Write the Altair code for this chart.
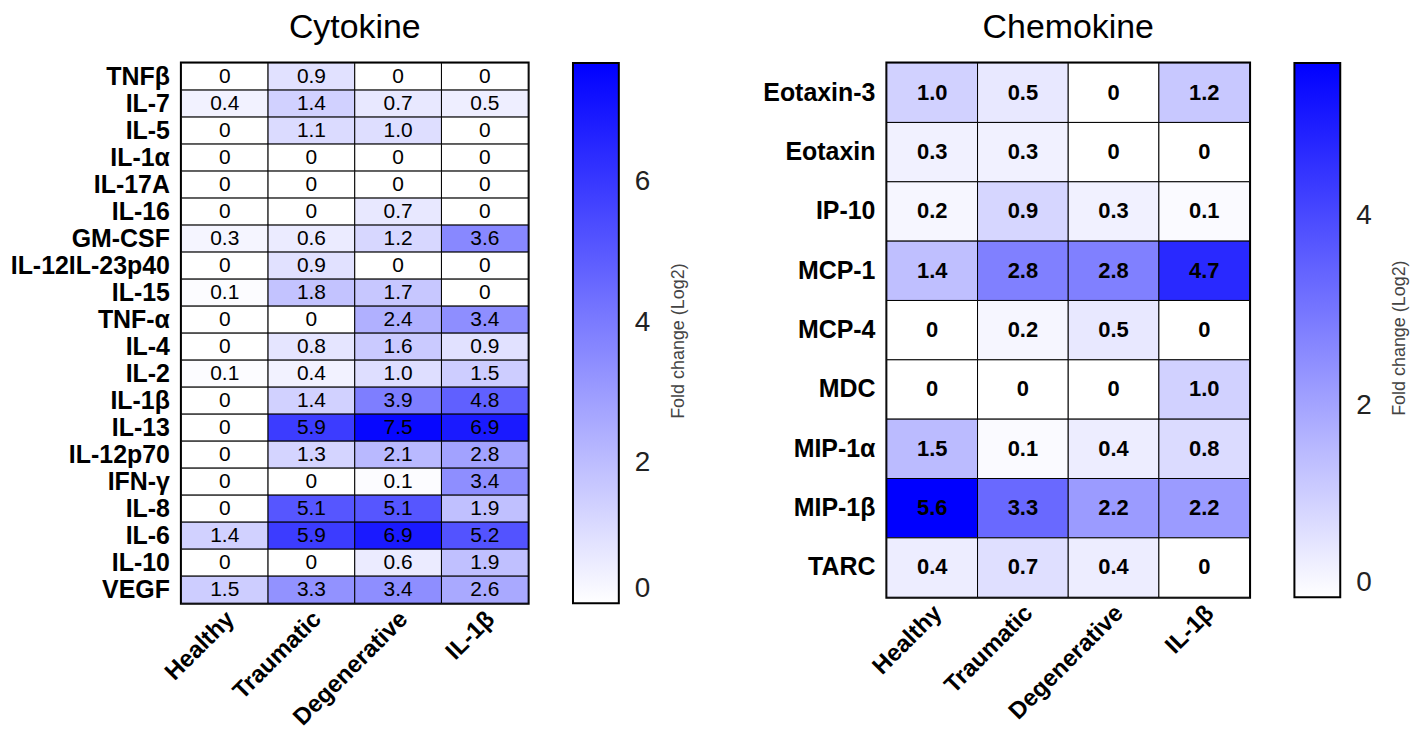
import altair as alt
import pandas as pd

groups = ["Healthy", "Traumatic", "Degenerative", "IL-1β"]

cyto_names = ["TNFβ", "IL-7", "IL-5", "IL-1α", "IL-17A", "IL-16", "GM-CSF",
              "IL-12IL-23p40", "IL-15", "TNF-α", "IL-4", "IL-2", "IL-1β", "IL-13",
              "IL-12p70", "IFN-γ", "IL-8", "IL-6", "IL-10", "VEGF"]
cyto_healthy = [0, 0.4, 0, 0, 0, 0, 0.3, 0, 0.1, 0, 0, 0.1, 0, 0, 0, 0, 0, 1.4, 0, 1.5]
cyto_traumatic = [0.9, 1.4, 1.1, 0, 0, 0, 0.6, 0.9, 1.8, 0, 0.8, 0.4, 1.4, 5.9, 1.3, 0, 5.1, 5.9, 0, 3.3]
cyto_degenerative = [0, 0.7, 1.0, 0, 0, 0.7, 1.2, 0, 1.7, 2.4, 1.6, 1.0, 3.9, 7.5, 2.1, 0.1, 5.1, 6.9, 0.6, 3.4]
cyto_il1b = [0, 0.5, 0, 0, 0, 0, 3.6, 0, 0, 3.4, 0.9, 1.5, 4.8, 6.9, 2.8, 3.4, 1.9, 5.2, 1.9, 2.6]

chemo_names = ["Eotaxin-3", "Eotaxin", "IP-10", "MCP-1", "MCP-4", "MDC", "MIP-1α", "MIP-1β", "TARC"]
chemo_healthy = [1.0, 0.3, 0.2, 1.4, 0, 0, 1.5, 5.6, 0.4]
chemo_traumatic = [0.5, 0.3, 0.9, 2.8, 0.2, 0, 0.1, 3.3, 0.7]
chemo_degenerative = [0, 0, 0.3, 2.8, 0.5, 0, 0.4, 2.2, 0.4]
chemo_il1b = [1.2, 0, 0.1, 4.7, 0, 1.0, 0.8, 2.2, 0]

cyto_ticks = [0, 2, 4, 6]
chemo_ticks = [0, 2, 4]
legend_title = "Fold change (Log2)"

FONT = "Liberation Sans"


def to_long(names, cols):
    rows = []
    for g, vals in zip(groups, cols):
        for n, v in zip(names, vals):
            rows.append({"name": n, "group": g, "v": v})
    return pd.DataFrame(rows)


def panel(df, names, title, width, height, vmax, ticks, cell_size, cell_weight):
    base = alt.Chart(df).encode(
        x=alt.X("group:N", sort=groups, title=None,
                axis=alt.Axis(labelAngle=-45, labelAlign="right", labelBaseline="middle",
                              labelFontWeight="bold", labelFontSize=24, labelPadding=12,
                              labelOffset=6, ticks=False, domain=False, labelColor="black",
                              labelFont=FONT)),
        y=alt.Y("name:N", sort=names, title=None,
                axis=alt.Axis(labelFontWeight="bold", labelFontSize=25, labelPadding=12,
                              ticks=False, domain=False, labelColor="black", labelFont=FONT,
                              labelLimit=400)),
    )
    rect = base.mark_rect(stroke="black", strokeWidth=1).encode(
        color=alt.Color("v:Q",
                        scale=alt.Scale(domain=[0, vmax], range=["#ffffff", "#0000ff"],
                                        interpolate="rgb"),
                        legend=alt.Legend(
                            title=None,
                            gradientLength=height, gradientThickness=46,
                            gradientStrokeColor="black", gradientStrokeWidth=2,
                            values=ticks, labelFontSize=28, labelColor="#222222",
                            labelFont=FONT, labelOffset=16, labelBaseline="middle",
                            offset=45, format="d", direction="vertical", orient="right")),
    )
    text = base.mark_text(fontSize=cell_size, fontWeight=cell_weight, font=FONT,
                          color="black").encode(
        text=alt.Text("lab:N")
    ).transform_calculate(lab="datum.v == 0 ? '0' : format(datum.v, '.1f')")
    return (rect + text).properties(
        width=width, height=height,
        view=alt.ViewBackground(stroke="black", strokeWidth=3),
        title=alt.TitleParams(title, fontSize=34, fontWeight="normal", font=FONT,
                              frame="group", anchor="middle", offset=18, color="black"),
    )


def bar_title(height):
    return alt.Chart(pd.DataFrame({"t": [legend_title]})).mark_text(
        angle=270, fontSize=18, color="#444444", font=FONT, baseline="middle", align="center"
    ).encode(
        text="t:N", x=alt.value(9), y=alt.value(height / 2 + 8)
    ).properties(width=18, height=height,
                 view=alt.ViewBackground(stroke="transparent"))


cyto_df = to_long(cyto_names, [cyto_healthy, cyto_traumatic, cyto_degenerative, cyto_il1b])
chemo_df = to_long(chemo_names, [chemo_healthy, chemo_traumatic, chemo_degenerative, chemo_il1b])

left = panel(cyto_df, cyto_names, "Cytokine", 348, 542, 7.7, cyto_ticks, 21, "normal")
right = panel(chemo_df, chemo_names, "Chemokine", 364, 536, 5.6, chemo_ticks, 22, "bold")

left_group = alt.hconcat(left, bar_title(542), spacing=16).resolve_scale(
    color="independent").resolve_legend(color="independent")
right_group = alt.hconcat(right, bar_title(536), spacing=16).resolve_scale(
    color="independent").resolve_legend(color="independent")

chart = alt.hconcat(left_group, right_group, spacing=72).resolve_scale(
    color="independent"
).resolve_legend(color="independent").configure_view(stroke="transparent").configure(
    background="white", padding=0)

chart.save("out.html", embed_options={"renderer": "svg", "actions": False})
